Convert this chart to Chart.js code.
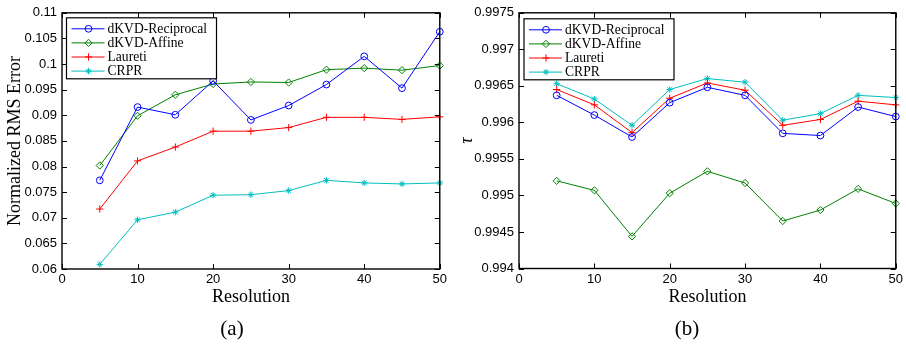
<!DOCTYPE html>
<html>
<head>
<meta charset="utf-8">
<script src="https://cdn.jsdelivr.net/npm/chart.js@4/dist/chart.umd.min.js"></script>
<style>
  html, body { margin: 0; padding: 0; background: #fff; }
  body { width: 906px; height: 344px; position: relative; overflow: hidden; }
  canvas { position: absolute; top: 0; }
  #chartRms { left: 0; }
  #chartTau { left: 450px; }
  .caption {
    position: absolute; top: 315px; transform: translateX(-50%);
    font: 21px "Liberation Serif", serif; color: #000; line-height: 26px;
  }
</style>
</head>
<body>
<canvas id="chartRms" width="450" height="344"></canvas>
<canvas id="chartTau" width="456" height="344"></canvas>
<div class="caption" style="left:232px">(a)</div>
<div class="caption" style="left:687px">(b)</div>

<script>
// Resolution values shared by both panels
const resolution = [5, 10, 15, 20, 25, 30, 35, 40, 45, 50];
const seriesNames = ['dKVD-Reciprocal', 'dKVD-Affine', 'Laureti', 'CRPR'];

// (a) Normalized RMS error
const rmsReciprocal = [0.0773, 0.0916, 0.0901, 0.0967, 0.0891, 0.0919, 0.0960, 0.1015, 0.0953, 0.1063];
const rmsAffine     = [0.0802, 0.0899, 0.0940, 0.0961, 0.0965, 0.0964, 0.0989, 0.0992, 0.0988, 0.0997];
const rmsLaureti    = [0.0717, 0.0811, 0.0838, 0.0869, 0.0869, 0.0876, 0.0896, 0.0896, 0.0892, 0.0897];
const rmsCRPR       = [0.0609, 0.0696, 0.0711, 0.0744, 0.0745, 0.0753, 0.0773, 0.0768, 0.0766, 0.0768];

// (b) tau
const tauReciprocal = [0.99637, 0.99610, 0.99580, 0.99627, 0.99648, 0.99637, 0.99585, 0.99582, 0.99621, 0.99608];
const tauAffine     = [0.99520, 0.99507, 0.99444, 0.99503, 0.99533, 0.99517, 0.99465, 0.99480, 0.99509, 0.99489];
const tauLaureti    = [0.99645, 0.99624, 0.99586, 0.99633, 0.99654, 0.99644, 0.99596, 0.99604, 0.99629, 0.99624];
const tauCRPR       = [0.99653, 0.99632, 0.99596, 0.99645, 0.99660, 0.99655, 0.99603, 0.99612, 0.99637, 0.99634];

// Tick values and their printed labels
const xTicks = [0, 10, 20, 30, 40, 50];
const rmsTicks = [0.06, 0.065, 0.07, 0.075, 0.08, 0.085, 0.09, 0.095, 0.1, 0.105, 0.11];
const rmsTickLabels = ['0.06', '0.065', '0.07', '0.075', '0.08', '0.085', '0.09', '0.095', '0.1', '0.105', '0.11'];
const tauTicks = [0.994, 0.9945, 0.995, 0.9955, 0.996, 0.9965, 0.997, 0.9975];
const tauTickLabels = ['0.994', '0.9945', '0.995', '0.9955', '0.996', '0.9965', '0.997', '0.9975'];

// Line styles per series
const seriesColors = ['#0000ff', '#008000', '#ff0000', '#00bfbf'];
const seriesMarkers = ['circle', 'rectRot', 'cross', 'star'];
const seriesRadius = [3.4, 3.6, 3.6, 3.2];

const TICK_FONT = { family: '"Liberation Sans", Arial, sans-serif', size: 13 };
const TITLE_FONT = { family: '"Liberation Serif", "Times New Roman", serif', size: 18 };

// Frame around the plot area with inward tick marks on all four sides
const framePlugin = {
  id: 'frame',
  afterDatasetsDraw(chart) {
    const { ctx, chartArea: a, scales } = chart;
    const len = 5;
    ctx.save();
    ctx.strokeStyle = '#000';
    ctx.lineWidth = 1;
    ctx.beginPath();
    scales.x.ticks.forEach(t => {
      const px = Math.round(scales.x.getPixelForValue(t.value)) + 0.5;
      ctx.moveTo(px, a.bottom); ctx.lineTo(px, a.bottom - len);
      ctx.moveTo(px, a.top); ctx.lineTo(px, a.top + len);
    });
    scales.y.ticks.forEach(t => {
      const py = Math.round(scales.y.getPixelForValue(t.value)) + 0.5;
      ctx.moveTo(a.left, py); ctx.lineTo(a.left + len, py);
      ctx.moveTo(a.right, py); ctx.lineTo(a.right - len, py);
    });
    ctx.stroke();
    ctx.lineWidth = 1.4;
    ctx.strokeRect(a.left, a.top, a.right - a.left, a.bottom - a.top);
    ctx.restore();
  }
};

// Boxed legend placed inside the plot area
const boxLegendPlugin = {
  id: 'boxLegend',
  afterDraw(chart, args, opts) {
    const { ctx, chartArea: a } = chart;
    const x0 = a.left + opts.dx, y0 = a.top + opts.dy;
    ctx.save();
    ctx.fillStyle = '#fff';
    ctx.fillRect(x0, y0, opts.w, opts.h);
    ctx.strokeStyle = '#000';
    ctx.lineWidth = 1.2;
    ctx.strokeRect(x0, y0, opts.w, opts.h);
    ctx.font = '13.6px "Liberation Serif", "Times New Roman", serif';
    ctx.textBaseline = 'middle';
    chart.data.datasets.forEach((ds, i) => {
      const y = y0 + 11 + i * 14.1;
      ctx.strokeStyle = ds.borderColor;
      ctx.lineWidth = 1;
      ctx.beginPath();
      ctx.moveTo(x0 + 5, y); ctx.lineTo(x0 + 38, y);
      ctx.stroke();
      // hollow marker in the series colour
      ctx.fillStyle = 'rgba(0,0,0,0)';
      ctx.strokeStyle = ds.borderColor;
      Chart.helpers.drawPoint(ctx, {
        pointStyle: ds.pointStyle, radius: ds.pointRadius,
        borderWidth: 1, rotation: 0
      }, x0 + 22, y);
      ctx.fillStyle = '#000';
      ctx.fillText(ds.label, x0 + 41, y + 0.5);
    });
    ctx.restore();
  }
};

function buildDatasets(valueLists) {
  return valueLists.map((vals, i) => ({
    label: seriesNames[i],
    data: resolution.map((r, k) => ({ x: r, y: vals[k] })),
    borderColor: seriesColors[i],
    backgroundColor: seriesColors[i],
    pointBorderColor: seriesColors[i],
    pointBackgroundColor: 'rgba(0,0,0,0)',
    pointStyle: seriesMarkers[i],
    pointRadius: seriesRadius[i],
    pointBorderWidth: 1,
    borderWidth: 1,
    tension: 0,
    clip: false
  }));
}

function makeChart(id, valueLists, yTicks, yLabels, yTitle, g) {
  return new Chart(document.getElementById(id), {
    type: 'line',
    data: { datasets: buildDatasets(valueLists) },
    plugins: [framePlugin, boxLegendPlugin],
    options: {
      responsive: false,
      animation: false,
      devicePixelRatio: 1,
      events: [],
      layout: { padding: { left: 0, top: 9, right: g.padRight, bottom: 0 } },
      plugins: {
        legend: { display: false },
        tooltip: { enabled: false },
        boxLegend: g.legend
      },
      scales: {
        x: {
          type: 'linear', min: 0, max: 50,
          afterBuildTicks: s => { s.ticks = xTicks.map(v => ({ value: v })); },
          afterFit: s => { s.height = g.xHeight; },
          grid: { display: false, drawTicks: false },
          border: { display: false },
          ticks: { font: TICK_FONT, color: '#000', padding: 3, maxRotation: 0, autoSkip: false },
          title: { display: true, text: 'Resolution', font: TITLE_FONT, color: '#000', padding: { bottom: 36 } }
        },
        y: {
          type: 'linear', min: yTicks[0], max: yTicks[yTicks.length - 1],
          afterBuildTicks: s => { s.ticks = yTicks.map(v => ({ value: v })); },
          afterFit: s => { s.width = g.yWidth; },
          grid: { display: false, drawTicks: false },
          border: { display: false },
          ticks: { font: TICK_FONT, color: '#000', padding: 5, autoSkip: false,
                   callback: (v, i) => yLabels[i] },
          title: { display: true, text: yTitle, font: Object.assign({}, TITLE_FONT, g.titleFont || {}),
                   color: '#000', padding: { top: g.yTitlePad } }
        }
      }
    }
  });
}

makeChart('chartRms', [rmsReciprocal, rmsAffine, rmsLaureti, rmsCRPR],
  rmsTicks, rmsTickLabels, 'Normalized RMS Error',
  { padRight: 9, xHeight: 75, yWidth: 62, yTitlePad: 4,
    legend: { dx: 4.5, dy: 5, w: 150, h: 61 } });

makeChart('chartTau', [tauReciprocal, tauAffine, tauLaureti, tauCRPR],
  tauTicks, tauTickLabels, 'τ',
  { padRight: 10, xHeight: 75.5, yWidth: 69, yTitlePad: 6, titleFont: { style: 'italic' },
    legend: { dx: 5, dy: 6, w: 150, h: 61 } });
</script>
</body>
</html>
